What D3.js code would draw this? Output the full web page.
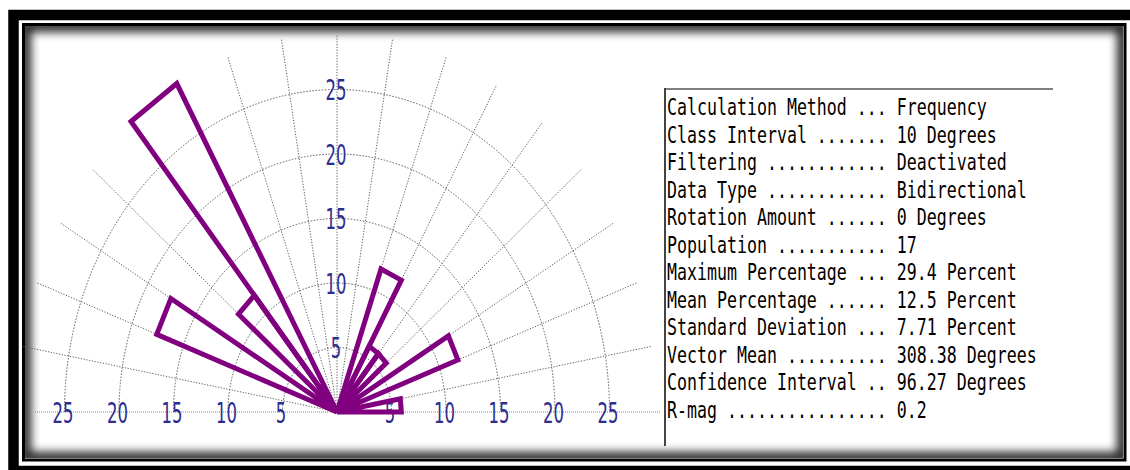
<!DOCTYPE html>
<html>
<head>
<meta charset="utf-8">
<script src="https://cdn.jsdelivr.net/npm/d3@7"></script>
<style>
  html, body { margin: 0; padding: 0; background: #fff; }
  svg { display: block; }
</style>
</head>
<body>
<div id="chart"></div>
<script>
// ---- data ----
const ringTicks = [5, 10, 15, 20, 25];
const classStart = [290, 310, 320, 20, 30, 40, 60, 80];          // azimuth, degrees (10° classes)
const classPercent = [17.6, 11.8, 29.4, 11.8, 5.9, 5.9, 11.8, 5.9]; // percent
const classWidth = 10;
const statLabels = [
  "Calculation Method ...", "Class Interval .......", "Filtering ............",
  "Data Type ............", "Rotation Amount ......", "Population ...........",
  "Maximum Percentage ...", "Mean Percentage ......", "Standard Deviation ...",
  "Vector Mean ..........", "Confidence Interval ..", "R-mag ................"
];
const statValues = [
  "Frequency", "10 Degrees", "Deactivated", "Bidirectional", "0 Degrees", "17",
  "29.4 Percent", "12.5 Percent", "7.71 Percent", "308.38 Degrees", "96.27 Degrees", "0.2"
];

// ---- layout ----
const W = 1130, H = 470;
const cx = 337, cy = 412;
const gridMax = 29.3;

const svg = d3.select("#chart").append("svg").attr("width", W).attr("height", H);
const defs = svg.append("defs");

svg.append("rect").attr("width", W).attr("height", H).attr("fill", "#fff");

// radial scales (the picture is stretched: horizontal and vertical differ)
const rx = d3.scaleLinear().domain([0, 25]).range([0, 272.5]);
const ry = d3.scaleLinear().domain([0, 25]).range([0, 322.5]);
const toRad = d => d * Math.PI / 180;
const px = (az, r) => cx + rx(r) * Math.sin(toRad(az));
const py = (az, r) => cy - ry(r) * Math.cos(toRad(az));

// ---- frame ----
svg.append("rect").attr("x", 13.5).attr("y", 15).attr("width", 1126.5).attr("height", 456)
  .attr("fill", "none").attr("stroke", "#000").attr("stroke-width", 10.5);

defs.append("clipPath").attr("id", "innerClip").append("rect")
  .attr("x", 25).attr("y", 26).attr("width", 1098).attr("height", 432);
const blur = defs.append("filter").attr("id", "blur").attr("x", "-5%").attr("y", "-5%").attr("width", "110%").attr("height", "110%");
blur.append("feGaussianBlur").attr("stdDeviation", 5);
svg.append("g").attr("clip-path", "url(#innerClip)")
  .append("rect").attr("x", 25).attr("y", 26).attr("width", 1098).attr("height", 432)
  .attr("fill", "none").attr("stroke", "#000").attr("stroke-width", 12).attr("opacity", 0.85)
  .attr("filter", "url(#blur)");
svg.append("rect").attr("x", 23.5).attr("y", 24.5).attr("width", 1101.5).attr("height", 435.5)
  .attr("fill", "none").attr("stroke", "#000").attr("stroke-width", 3);

// ---- grid ----
const grid = svg.append("g").attr("fill", "none").attr("stroke", "#5a5a5a").attr("stroke-width", 1);
const gridAz = d3.range(-90, 91, 10);
grid.selectAll("line.radial").data(gridAz.filter(a => Math.abs(a) !== 90)).join("line")
  .attr("class", "radial")
  .attr("x1", cx).attr("y1", cy)
  .attr("x2", a => px(a, gridMax)).attr("y2", a => py(a, gridMax))
  .attr("stroke-dasharray", "1.2,1.6");
grid.append("line").attr("x1", 35).attr("y1", cy).attr("x2", 660).attr("y2", cy)
  .attr("stroke", "#888").attr("stroke-dasharray", "1,1");
grid.selectAll("path.ring").data(ringTicks).join("path")
  .attr("class", "ring")
  .attr("d", v => `M${cx - rx(v)},${cy} A${rx(v)},${ry(v)} 0 0 1 ${cx + rx(v)},${cy}`)
  .attr("stroke-dasharray", "1.5,1.6");

// ---- tick labels (narrow, tall digits: small font stretched vertically) ----
const lab = svg.append("g").attr("fill", "#2d2d8f")
  .attr("font-family", "'DejaVu Sans', sans-serif").attr("font-size", 16.5)
  .attr("text-anchor", "middle");
const labelPos = [];
ringTicks.forEach(v => {
  labelPos.push({ v, x: cx - 1, y: cy - ry(v) + 10.5 });
  labelPos.push({ v, x: cx - 1.5 - rx(v), y: cy + 10.5 });
  labelPos.push({ v, x: cx - 1.5 + rx(v), y: cy + 10.5 });
});
lab.selectAll("text").data(labelPos).join("text")
  .attr("transform", d => `translate(${d.x},${d.y}) scale(1,1.7)`)
  .text(d => d.v);

// ---- petals ----
const petals = classStart.map((s, i) => ({ a0: s, a1: s + classWidth, v: classPercent[i] }));
svg.append("g").selectAll("path.petal").data(petals).join("path")
  .attr("class", "petal")
  .attr("d", d => `M${cx},${cy} L${px(d.a0, d.v)},${py(d.a0, d.v)} L${px(d.a1, d.v)},${py(d.a1, d.v)} Z`)
  .attr("fill", "none").attr("stroke", "#800080").attr("stroke-width", 5)
  .attr("stroke-linejoin", "miter");

// ---- statistics panel ----
svg.append("line").attr("x1", 664).attr("y1", 89).attr("x2", 1053).attr("y2", 89)
  .attr("stroke", "#808080").attr("stroke-width", 2);
svg.append("line").attr("x1", 665).attr("y1", 88).attr("x2", 665).attr("y2", 446)
  .attr("stroke", "#444").attr("stroke-width", 2);

const statLines = statLabels.map((l, i) => l + " " + statValues[i]);
const stats = svg.append("g").attr("fill", "#000")
  .attr("font-family", "'DejaVu Sans Mono', monospace").attr("font-size", 16.6);
stats.selectAll("text.st").data(statLines).join("text").attr("class", "st")
  .attr("transform", (d, i) => `translate(667,${115 + 27.5 * i}) scale(1,1.4)`)
  .attr("xml:space", "preserve")
  .text(d => d);
</script>
</body>
</html>
